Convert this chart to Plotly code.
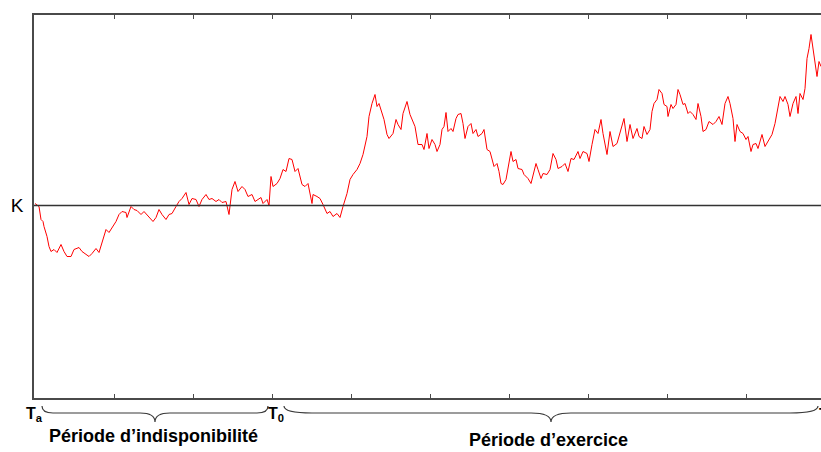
import plotly.graph_objects as go

# ---- data (time in days, price level; K = strike) ----
days = [0, 4, 6, 8, 9, 12, 14, 16, 19, 22, 26, 29, 32, 36, 39, 44, 47, 51, 54, 57, 61, 64, 67, 71, 74, 77, 81, 84, 87, 91, 92, 96, 99, 102, 106, 109, 112, 116, 118, 121, 124, 127, 131, 134, 137, 141, 144, 147, 151, 154, 157, 161, 164, 167, 171, 174, 177, 181, 184, 187, 191, 194, 197, 200,
        203, 207, 210, 213, 217, 220, 223, 226, 228, 232, 234, 236, 238, 242, 245, 248, 251, 254, 257, 260, 263, 267, 270, 273, 277, 278, 282, 285, 288, 292, 295, 298, 302, 305, 308, 312, 315, 318, 322, 325, 328, 332, 334, 337, 340, 342, 344, 347, 349, 352, 354, 358, 361, 363, 366, 368, 372, 375, 378, 380, 383, 387, 389, 392, 394,
        397, 400, 402, 405, 407, 409, 411, 413, 416, 418, 421, 423, 426, 428, 430, 433, 436, 438, 441, 443, 447, 449, 452, 455, 457, 459, 462, 464, 466, 468, 471, 473, 476, 478, 481, 483, 487, 489, 493, 496, 498, 501, 503, 506, 508, 512, 515, 518, 521, 523, 527, 530, 533, 536, 539, 543, 545, 548, 552, 554, 557, 560, 563, 566, 568, 572, 575, 578, 582, 585, 589,
        592, 595, 598, 602, 604, 607, 609, 612, 615, 617, 619, 622, 624, 627, 629, 632, 633, 636, 638, 641, 643, 645, 648, 650, 653, 655, 658, 661, 663, 666, 668, 671, 674, 678, 681, 684, 687, 690, 693, 695, 698, 700, 702, 705, 708, 711, 713, 716, 718, 721, 723, 727, 730, 733, 737, 740, 742, 745, 748, 750, 753, 755, 758, 761, 763, 765, 768, 770, 772, 774, 776, 778, 780, 782, 784, 786]
prices = [202, 199, 186, 184, 179, 169, 159, 154, 156, 153, 161, 154, 149, 149, 156, 158, 154, 151, 149, 152, 157, 153, 163, 176, 173, 178, 184, 191, 194, 193, 188, 199, 196, 195, 191, 194, 191, 187, 184, 188, 196, 191, 186, 191, 192, 199, 204, 207, 213, 201, 207, 206, 199, 206, 211, 206, 207, 204, 206, 203, 204, 191, 216, 224,
          214, 219, 216, 209, 211, 204, 206, 208, 202, 206, 200, 229, 219, 222, 227, 236, 234, 247, 246, 234, 237, 221, 219, 222, 202, 211, 209, 207, 201, 192, 194, 189, 192, 188, 199, 212, 226, 231, 236, 242, 251, 269, 289, 302, 311, 299, 302, 292, 286, 271, 267, 272, 286, 281, 276, 292, 304, 291, 284, 279, 261, 261, 256, 272, 257,
          266, 261, 254, 261, 276, 279, 293, 274, 277, 274, 287, 291, 292, 282, 267, 279, 282, 272, 276, 269, 272, 276, 256, 254, 246, 239, 242, 234, 222, 221, 226, 239, 254, 244, 246, 237, 236, 231, 227, 222, 229, 242, 236, 227, 232, 231, 236, 252, 246, 237, 239, 242, 234, 247, 246, 254, 247, 254, 252, 244, 261, 276, 272, 286, 272, 251, 274, 259, 262, 272, 287,
          264, 281, 267, 277, 269, 267, 279, 271, 276, 294, 302, 306, 316, 312, 301, 299, 289, 301, 297, 301, 316, 311, 301, 302, 292, 294, 291, 286, 302, 289, 274, 276, 284, 281, 284, 289, 281, 302, 309, 302, 287, 264, 281, 274, 272, 266, 269, 254, 261, 262, 257, 271, 259, 264, 271, 282, 294, 309, 304, 309, 301, 289, 302, 309, 292, 312, 306, 317, 347, 357, 371, 357, 344, 329, 344, 339]
K = 200
T_a, T_0, T_end = 0, 237, 790
tick_step = 79
point_labels = ["T<sub>a</sub>", "T<sub>0</sub>", "T"]
period_labels = ["Période d’indisponibilité", "Période d’exercice"]

# ---- layout geometry ----
W, H = 821, 452
ML, MR, MT, MB = 34, 0, 15, 54
x_range = [-1, 786]
y_range = [7.5, 390.5]
plot_h = H - MT - MB
FONT = "Liberation Sans, Arial, sans-serif"
AX = "#4a4a4a"


def px_x(d):
    return (d - x_range[0]) / (x_range[1] - x_range[0])


def py_off(off):
    return -off / plot_h


fig = go.Figure()
fig.add_trace(go.Scatter(x=days, y=prices, mode="lines",
                         line=dict(color="#ff0000", width=1),
                         hoverinfo="skip", showlegend=False))

# strike line
fig.add_shape(type="line", xref="paper", x0=0, x1=1, yref="y", y0=K, y1=K,
              line=dict(color="#333333", width=1.6))


def brace(d0, d1, r, r2):
    x0, x1 = px_x(d0), px_x(d1)
    xm = (x0 + x1) / 2
    rw = r / (x_range[1] - x_range[0])
    r2w = r2 / (x_range[1] - x_range[0])
    yt, ym, yb = py_off(8), py_off(15), py_off(24)
    return (f"M {x0},{yt} Q {x0},{ym} {x0 + rw},{ym} L {xm - r2w},{ym} "
            f"Q {xm},{ym} {xm},{yb} Q {xm},{ym} {xm + r2w},{ym} "
            f"L {x1 - rw},{ym} Q {x1},{ym} {x1},{yt}")


for (a, b, r, r2) in [(T_a + 7, T_0 - 4, 11, 15), (T_0 + 12, T_end - 7, 28, 20)]:
    fig.add_shape(type="path", xref="paper", yref="paper", path=brace(a, b, r, r2),
                  line=dict(color="#3a3a3a", width=1.2))

# T labels (paper x so the cut-off final "T" is still drawn)
for t, lab, sh in zip([T_a, T_0, T_end], point_labels, [-1, 4, -1]):
    fig.add_annotation(x=px_x(t), xref="paper", y=py_off(16), yref="paper", text=f"<b>{lab}</b>",
                       showarrow=False, xanchor="center", yanchor="middle", xshift=sh,
                       font=dict(family=FONT, size=16, color="black"))

# period labels
for (a, b), lab, off in zip([(T_a, T_0), (T_0, T_end)], period_labels, [38, 42]):
    fig.add_annotation(x=(a + b) / 2, xref="x", y=py_off(off), yref="paper", text=f"<b>{lab}</b>",
                       showarrow=False, xanchor="center", yanchor="middle",
                       font=dict(family=FONT, size=18, color="black"))

fig.update_xaxes(range=x_range, showgrid=False, zeroline=False,
                 showline=True, linecolor=AX, linewidth=1.5, mirror="ticks",
                 tickvals=list(range(T_a, T_end + 1, tick_step)), showticklabels=False,
                 ticks="inside", ticklen=4, tickwidth=1, tickcolor=AX)
fig.update_yaxes(range=y_range, showgrid=False, zeroline=False,
                 showline=True, linecolor=AX, linewidth=1.5, mirror=False,
                 tickvals=[K], ticktext=["K"], ticks="", ticklabelstandoff=5,
                 tickfont=dict(family=FONT, size=19, color="black"))

fig.update_layout(width=W, height=H, margin=dict(l=ML, r=MR, t=MT, b=MB, pad=0),
                  paper_bgcolor="white", plot_bgcolor="white", showlegend=False)

fig.write_html("out.html")
